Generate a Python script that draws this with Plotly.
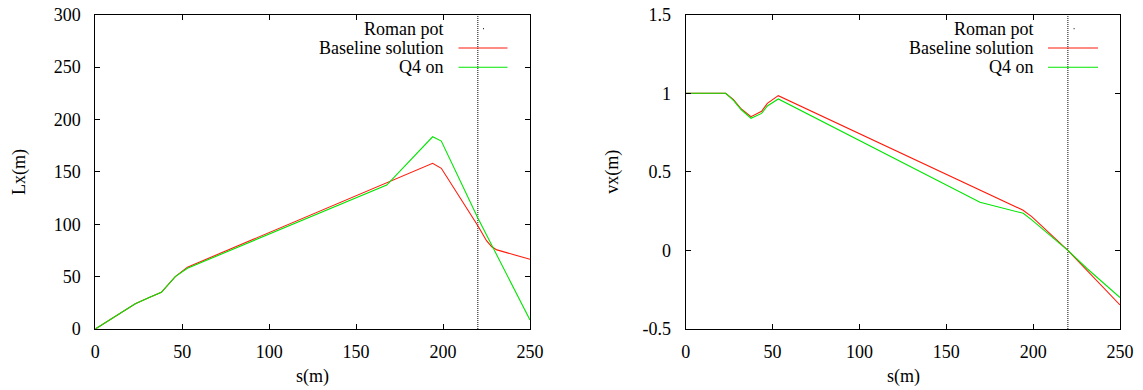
import plotly.graph_objects as go

# ---------------- data ----------------
# Left panel: Lx(m) vs s(m)
s_lx_base = [0, 23, 31, 38, 46, 53, 194, 199, 220, 225, 228, 231, 250]
lx_base = [0, 24, 30, 35, 50, 59, 158.2, 153.4, 98.5, 84.3, 78.5, 75.5, 66.5]

s_lx_q4 = [0, 23, 31, 38, 46, 53, 167.6, 194, 199, 220, 250]
lx_q4 = [0, 24, 30, 35, 50, 58, 137.4, 183.5, 179.4, 106, 8.6]

# Right panel: vx(m) vs s(m)
s_vx_base = [0, 23, 27.5, 32, 37.6, 43.7, 47, 53.3, 194, 199.2, 220, 250]
vx_base = [1, 1, 0.96, 0.90, 0.851, 0.885, 0.936, 0.985, 0.257, 0.215, 0, -0.347]

s_vx_q4 = [0, 23, 27.5, 32, 37.6, 43.7, 47, 53.3, 169.4, 194.3, 199.2, 220, 231, 250]
vx_q4 = [1, 1, 0.955, 0.895, 0.841, 0.872, 0.919, 0.964, 0.306, 0.236, 0.194, 0, -0.115, -0.30]

# Roman pot position
s_pot = [220, 220]
lx_pot = [0, 300]
vx_pot = [-0.5, 1.5]

x_ticks = [0, 50, 100, 150, 200, 250]
lx_ticks = [0, 50, 100, 150, 200, 250, 300]
vx_ticks = [-0.5, 0, 0.5, 1, 1.5]
vx_ticktext = ["-0.5", "0", "0.5", "1", "1.5"]

legend_names = ["Roman pot", "Baseline solution", "Q4 on"]

# ---------------- style ----------------
W, H = 1143, 390
FONT = "Liberation Serif, Times New Roman, serif"
FS = 18
RED = "#ff1a0a"
GREEN = "#00e600"


def px(x):
    return x / W


def py(y):
    return 1 - y / H


fig = go.Figure()

fig.add_trace(go.Scatter(x=s_pot, y=lx_pot, mode="lines", xaxis="x", yaxis="y",
                         line=dict(color="black", width=1, dash="1px,1px"), showlegend=False))
fig.add_trace(go.Scatter(x=s_lx_base, y=lx_base, mode="lines", xaxis="x", yaxis="y",
                         line=dict(color=RED, width=1.1), showlegend=False))
fig.add_trace(go.Scatter(x=s_lx_q4, y=lx_q4, mode="lines", xaxis="x", yaxis="y",
                         line=dict(color=GREEN, width=1.1), showlegend=False))

fig.add_trace(go.Scatter(x=s_pot, y=vx_pot, mode="lines", xaxis="x2", yaxis="y2",
                         line=dict(color="black", width=1, dash="1px,1px"), showlegend=False))
fig.add_trace(go.Scatter(x=s_vx_base, y=vx_base, mode="lines", xaxis="x2", yaxis="y2",
                         line=dict(color=RED, width=1.1), showlegend=False))
fig.add_trace(go.Scatter(x=s_vx_q4, y=vx_q4, mode="lines", xaxis="x2", yaxis="y2",
                         line=dict(color=GREEN, width=1.1), showlegend=False))

axis_common = dict(
    showgrid=False, zeroline=False, showline=True, linecolor="black", linewidth=1,
    mirror="allticks", ticks="inside", ticklen=5, tickwidth=1, tickcolor="black",
    automargin=False,
    tickfont=dict(family=FONT, size=FS, color="black"),
)

ydom = [py(329), py(14.7)]
fig.update_layout(
    width=W, height=H,
    margin=dict(l=0, r=0, t=0, b=0, pad=0, autoexpand=False),
    paper_bgcolor="white", plot_bgcolor="white",
    showlegend=False,
    xaxis=dict(domain=[px(95.3), px(530)], range=[0, 250], tickvals=x_ticks,
               anchor="y", ticklabelstandoff=6, **axis_common),
    yaxis=dict(domain=ydom, range=[0, 300], tickvals=lx_ticks,
               anchor="x", ticklabelstandoff=10, **axis_common),
    xaxis2=dict(domain=[px(685.7), px(1120)], range=[0, 250], tickvals=x_ticks,
                anchor="y2", ticklabelstandoff=6, **axis_common),
    yaxis2=dict(domain=ydom, range=[-0.5, 1.5], tickvals=vx_ticks, ticktext=vx_ticktext,
                anchor="x2", ticklabelstandoff=10, **axis_common),
)

annotations = []
shapes = []
# axis titles
for (xc, yc, txt, ang) in [(19.1, 172, "Lx(m)", -90), (611.8, 172, "vx(m)", -90),
                           (312.6, 376.5, "s(m)", 0), (903, 376.5, "s(m)", 0)]:
    annotations.append(dict(x=px(xc), y=py(yc), xref="paper", yref="paper", text=txt,
                            showarrow=False, textangle=ang, xanchor="center", yanchor="middle",
                            font=dict(family=FONT, size=FS, color="black")))

# legends (gnuplot style: text right-aligned, sample to the right)
rows = [28.7, 48.0, 67.3]
for text_right, samp0, samp1, dot in [(445.9, 458.5, 507.5, 483), (1036.3, 1048, 1098, 1073.6)]:
    for i, name in enumerate(legend_names):
        annotations.append(dict(x=px(text_right), y=py(rows[i]), xref="paper", yref="paper",
                                text=name, showarrow=False, xanchor="right", yanchor="middle",
                                font=dict(family=FONT, size=FS, color="black")))
    shapes.append(dict(type="line", xref="paper", yref="paper",
                       x0=px(dot), x1=px(dot + 1), y0=py(rows[0]), y1=py(rows[0]),
                       line=dict(color="black", width=1)))
    shapes.append(dict(type="line", xref="paper", yref="paper",
                       x0=px(samp0), x1=px(samp1), y0=py(rows[1]), y1=py(rows[1]),
                       line=dict(color=RED, width=1.1)))
    shapes.append(dict(type="line", xref="paper", yref="paper",
                       x0=px(samp0), x1=px(samp1), y0=py(rows[2]), y1=py(rows[2]),
                       line=dict(color=GREEN, width=1.1)))

fig.update_layout(annotations=annotations, shapes=shapes)

fig.write_html(
    "out.html",
    config={"displayModeBar": False},
    post_script="document.body.style.margin='0';document.body.style.overflow='hidden';",
)
